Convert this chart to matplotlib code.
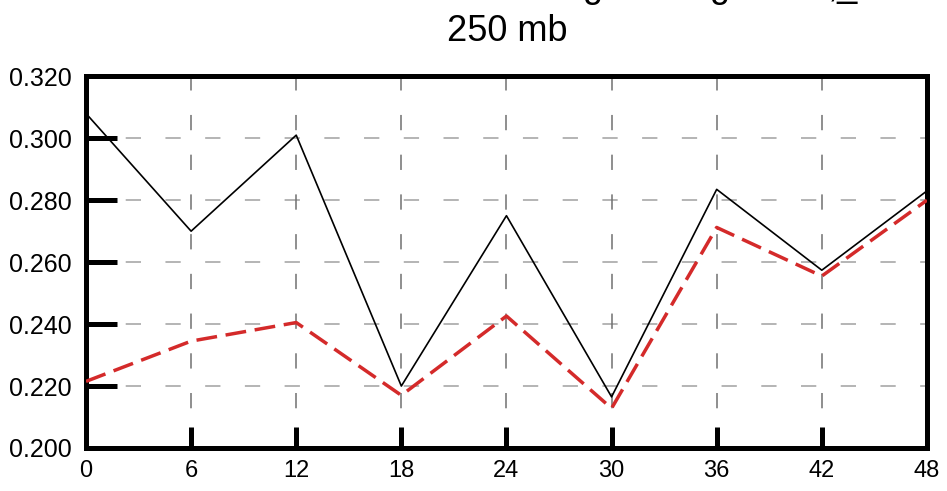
import matplotlib
matplotlib.use("Agg")
import matplotlib.pyplot as plt

# forecast hour
lead_hours = [0, 6, 12, 18, 24, 30, 36, 42, 48]
# anomaly correlation, two runs
series_black = [0.308, 0.270, 0.301, 0.220, 0.275, 0.2165, 0.2835, 0.2574, 0.283]
series_red = [0.2215, 0.2345, 0.2405, 0.217, 0.2426, 0.2128, 0.2712, 0.2555, 0.280]

y_ticks = [0.200, 0.220, 0.240, 0.260, 0.280, 0.300, 0.320]

plt.rcParams['font.family'] = ['Liberation Sans', 'DejaVu Sans']

fig = plt.figure(figsize=(9.47, 4.91), dpi=100)
ax = fig.add_axes([0.0908, 0.0876, 0.888, 0.757])

# grid drawn by hand so horizontal and vertical can differ
for yv in y_ticks[1:-1]:
    ax.axhline(yv, color='#a0a0a0', lw=1.1, dashes=(10, 16), zorder=1)
for xv in lead_hours[1:-1]:
    ax.axvline(xv, color='#707070', lw=1.1, dashes=(10, 16), zorder=1)

ax.plot(lead_hours, series_black, color='black', lw=1.2, zorder=3)
ax.plot(lead_hours, series_red, color='#d42a2a', lw=2.5, dashes=(6, 2.5), zorder=4)

ax.set_xlim(0, 48)
ax.set_ylim(0.2, 0.32)
ax.set_xticks(lead_hours)
ax.set_yticks(y_ticks)
ax.set_yticklabels([f"{v:.3f}" for v in y_ticks])

for sp in ax.spines.values():
    sp.set_linewidth(3.6)
ax.tick_params(axis='y', direction='in', length=22, width=3.6, labelsize=18, pad=10)
ax.tick_params(axis='x', direction='in', length=15, width=3.6, labelsize=17, pad=9)

fig.text(0.536, 0.935, "250 mb", ha='center', va='center', fontsize=26)
# first title line sits above the top edge; only descenders show
for frag, fx in [("g", 0.626), ("g", 0.760), (",_", 0.890)]:
    fig.text(fx, 1.007, frag, ha='center', va='baseline', fontsize=26)

fig.savefig("out.png", dpi=100)
